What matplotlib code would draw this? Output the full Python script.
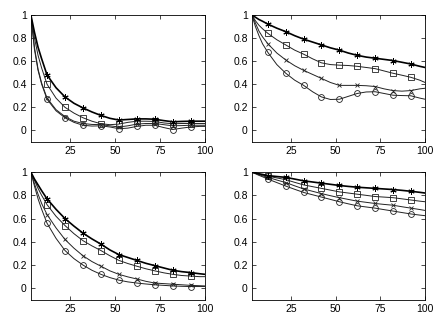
import numpy as np
import matplotlib
matplotlib.use("Agg")
import matplotlib.pyplot as plt

plt.rcParams['font.family'] = ['Liberation Sans', 'DejaVu Sans']

# sample positions (markers sit at 12, 22, ..., 92)
x = [3, 5, 7, 9, 12, 17, 22, 27, 32, 37, 42, 47, 52, 57, 62, 67, 72, 77, 82, 87, 92, 97, 100]

# top left
p1_star = [1, 0.85, 0.72, 0.62, 0.48, 0.37, 0.29, 0.235, 0.195, 0.16, 0.13, 0.105, 0.09,
           0.095, 0.1, 0.1, 0.097, 0.085, 0.075, 0.078, 0.08, 0.08, 0.08]
p1_square = [1, 0.8, 0.65, 0.54, 0.4, 0.28, 0.2, 0.15, 0.11, 0.08, 0.058, 0.05, 0.055,
             0.07, 0.08, 0.08, 0.078, 0.065, 0.058, 0.06, 0.06, 0.06, 0.06]
p1_x = [1, 0.72, 0.53, 0.41, 0.28, 0.18, 0.12, 0.08, 0.06, 0.052, 0.05, 0.04, 0.03,
        0.04, 0.055, 0.06, 0.06, 0.05, 0.04, 0.042, 0.045, 0.045, 0.045]
p1_circle = [1, 0.7, 0.52, 0.4, 0.27, 0.17, 0.11, 0.07, 0.045, 0.038, 0.04, 0.03, 0.015,
             0.02, 0.035, 0.045, 0.045, 0.025, 0.008, 0.02, 0.03, 0.035, 0.035]

# top right
p2_star = [1, 0.98, 0.96, 0.945, 0.92, 0.885, 0.855, 0.82, 0.79, 0.765, 0.74, 0.715, 0.695,
           0.67, 0.65, 0.635, 0.625, 0.615, 0.605, 0.59, 0.575, 0.555, 0.545]
p2_square = [1, 0.95, 0.91, 0.88, 0.84, 0.785, 0.74, 0.695, 0.66, 0.62, 0.585, 0.57, 0.565,
             0.562, 0.555, 0.545, 0.535, 0.515, 0.495, 0.478, 0.46, 0.435, 0.415]
p2_x = [1, 0.93, 0.86, 0.81, 0.75, 0.67, 0.61, 0.56, 0.52, 0.485, 0.45, 0.415, 0.39,
        0.39, 0.39, 0.387, 0.38, 0.36, 0.345, 0.34, 0.345, 0.36, 0.365]
p2_circle = [1, 0.9, 0.82, 0.75, 0.675, 0.57, 0.495, 0.435, 0.39, 0.335, 0.29, 0.268, 0.27,
             0.295, 0.32, 0.333, 0.335, 0.32, 0.305, 0.302, 0.3, 0.28, 0.27]

# bottom left
p3_star = [1, 0.94, 0.89, 0.84, 0.77, 0.68, 0.6, 0.535, 0.475, 0.425, 0.38, 0.33, 0.29,
           0.265, 0.24, 0.215, 0.195, 0.175, 0.155, 0.143, 0.135, 0.125, 0.12]
p3_square = [1, 0.93, 0.86, 0.8, 0.72, 0.62, 0.54, 0.47, 0.41, 0.365, 0.325, 0.28, 0.24,
             0.213, 0.19, 0.168, 0.15, 0.133, 0.12, 0.11, 0.105, 0.1, 0.1]
p3_x = [1, 0.9, 0.81, 0.73, 0.635, 0.52, 0.42, 0.345, 0.28, 0.23, 0.19, 0.15, 0.12,
        0.098, 0.08, 0.06, 0.045, 0.04, 0.035, 0.03, 0.025, 0.022, 0.02]
p3_circle = [1, 0.88, 0.77, 0.68, 0.56, 0.43, 0.325, 0.255, 0.2, 0.155, 0.12, 0.092, 0.07,
             0.055, 0.045, 0.037, 0.03, 0.025, 0.02, 0.017, 0.015, 0.015, 0.015]

# bottom right
p4_star = [1, 0.993, 0.986, 0.98, 0.97, 0.962, 0.955, 0.94, 0.925, 0.915, 0.905, 0.895, 0.885,
           0.877, 0.87, 0.865, 0.86, 0.855, 0.85, 0.843, 0.835, 0.826, 0.82]
p4_square = [1, 0.99, 0.982, 0.975, 0.965, 0.95, 0.935, 0.912, 0.89, 0.875, 0.86, 0.845, 0.83,
             0.82, 0.81, 0.8, 0.79, 0.785, 0.78, 0.77, 0.76, 0.75, 0.745]
p4_x = [1, 0.99, 0.978, 0.968, 0.955, 0.932, 0.91, 0.882, 0.855, 0.835, 0.815, 0.797, 0.78,
        0.765, 0.75, 0.74, 0.73, 0.722, 0.715, 0.702, 0.69, 0.678, 0.67]
p4_circle = [1, 0.986, 0.972, 0.96, 0.94, 0.91, 0.88, 0.852, 0.825, 0.805, 0.785, 0.765, 0.745,
             0.727, 0.71, 0.7, 0.69, 0.677, 0.665, 0.652, 0.64, 0.63, 0.625]

panels = [
    (p1_star, p1_square, p1_x, p1_circle),
    (p2_star, p2_square, p2_x, p2_circle),
    (p3_star, p3_square, p3_x, p3_circle),
    (p4_star, p4_square, p4_x, p4_circle),
]

# axes boxes [left, bottom, width, height] in figure fractions
boxes = [
    [0.070, 0.571, 0.395, 0.384],
    [0.571, 0.571, 0.393, 0.384],
    [0.070, 0.094, 0.395, 0.386],
    [0.571, 0.094, 0.393, 0.386],
]

marks = slice(4, 21, 2)

fig = plt.figure(figsize=(4.41, 3.31), dpi=100)

for box, (star, square, xs, circle) in zip(boxes, panels):
    ax = fig.add_axes(box)
    ax.plot(x, circle, '-', color='#222222', lw=0.7, marker='o', ms=4.2, mfc='none', mew=0.6,
            markevery=marks)
    ax.plot(x, xs, '-', color='#222222', lw=0.7, marker='x', ms=3.5, mew=0.6, markevery=marks)
    ax.plot(x, square, '-', color='#222222', lw=0.7, marker='s', ms=3.8, mfc='none', mew=0.6,
            markevery=marks)
    ax.plot(x, star, '-', color='k', lw=1.2, marker=(6, 2, 0), ms=4.5, mew=0.7,
            markevery=marks)
    ax.set_xlim(3, 100)
    ax.set_ylim(-0.1, 1)
    ax.set_xticks([25, 50, 75, 100])
    ax.set_yticks([0, 0.2, 0.4, 0.6, 0.8, 1])
    ax.set_yticklabels(['0', '0.2', '0.4', '0.6', '0.8', '1'])
    ax.tick_params(direction='in', top=True, right=True, length=3, width=0.5,
                   labelsize=7.5, pad=3)
    for s in ax.spines.values():
        s.set_linewidth(0.6)

fig.savefig('out.png', dpi=100)
